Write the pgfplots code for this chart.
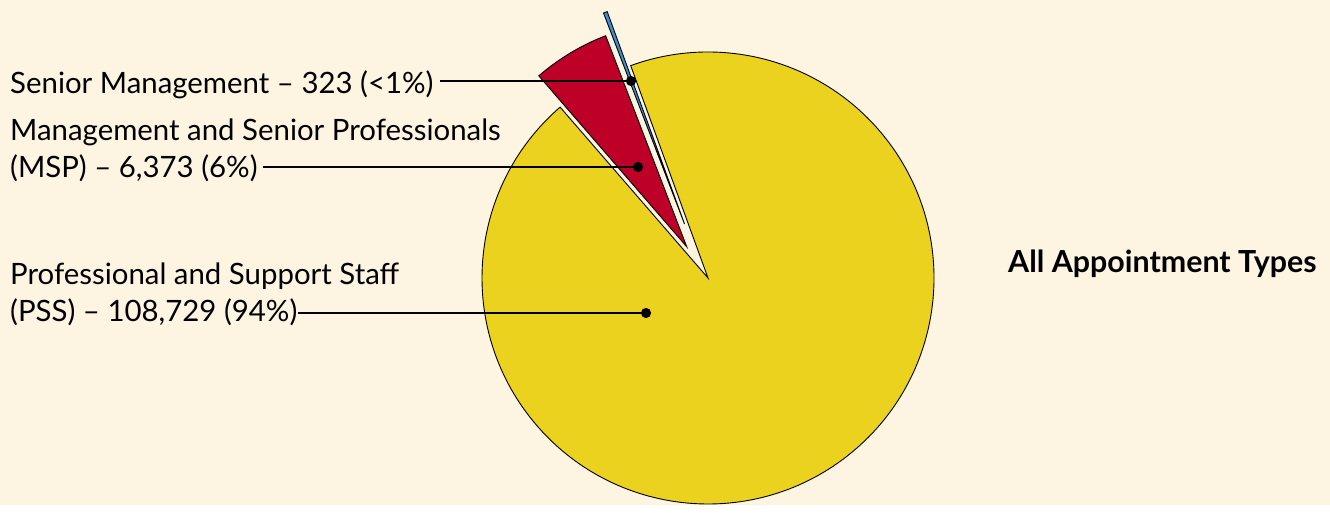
\documentclass[border=0pt]{standalone}
\usepackage{fontspec}
\setmainfont{Lato}
\usepackage{pgfplots}
\usepackage{pgfplotstable}
\pgfplotsset{compat=1.18}

\definecolor{cream}{HTML}{FDF5E1}
\definecolor{pssyellow}{HTML}{EBD21E}
\definecolor{mspred}{HTML}{BE0029}
\definecolor{smblue}{HTML}{3A8FD0}

% headcount by appointment type
\pgfplotstableread{
group count
SM    323
MSP   6373
PSS   108729
}\staff

\pgfplotstablegetelem{0}{count}\of\staff \edef\nSM{\pgfplotsretval}
\pgfplotstablegetelem{1}{count}\of\staff \edef\nMSP{\pgfplotsretval}
\pgfplotstablegetelem{2}{count}\of\staff \edef\nPSS{\pgfplotsretval}
\edef\ntot{\fpeval{\nSM+\nMSP+\nPSS}}
% slice angles, counter-clockwise from 110 degrees
\edef\aA{110}
\edef\aB{\fpeval{\aA+360*\nSM/\ntot}}
\edef\aC{\fpeval{\aB+360*\nMSP/\ntot}}
\edef\aD{\fpeval{\aC+360*\nPSS/\ntot}}
\def\R{226bp}

\begin{document}
\begin{tikzpicture}
  \begin{axis}[
    width=1330bp, height=505bp,
    scale only axis,
    xmin=0, xmax=1330,
    ymin=0, ymax=505,
    hide axis,
    clip=false,
  ]
    \fill[cream] (axis cs:0,0) rectangle (axis cs:1330,505);

    % PSS
    \filldraw[fill=pssyellow, draw=black, line width=0.9bp, line join=miter]
      (axis cs:708,227) -- ++(\aC:\R) arc[start angle=\aC, end angle=\aD, radius=\R] -- cycle;
    % MSP (pulled out)
    \filldraw[fill=mspred, draw=black, line width=0.9bp, line join=miter]
      (axis cs:686.7,258.3) -- ++(\aB:\R) arc[start angle=\aB, end angle=\aC, radius=\R] -- cycle;
    % Senior Management (pulled out further)
    \filldraw[fill=smblue, draw=black, line width=0.9bp, line join=miter]
      (axis cs:684.5,281) -- ++(\aA:\R) arc[start angle=\aA, end angle=\aB, radius=\R] -- cycle;

    % leader lines
    \addplot[black, line width=1.1bp, mark=*, mark indices={2}, mark size=4.5bp]
      coordinates {(440,424) (631,424)};
    \addplot[black, line width=1.1bp, mark=*, mark indices={2}, mark size=4.5bp]
      coordinates {(263,338) (638,338)};
    \addplot[black, line width=1.1bp, mark=*, mark indices={2}, mark size=4.5bp]
      coordinates {(298,192) (646,192)};

    \begin{scope}[every node/.style={anchor=base west, inner sep=0pt, font=\fontsize{29.5}{34}\selectfont}]
      \node at (axis cs:10,411.7) {Senior Management – 323 (<1\%)};
      \node at (axis cs:10,364.3) {Management and Senior Professionals};
      \node at (axis cs:10,327) {(MSP) – 6,373 (6\%)};
      \node at (axis cs:10,220.7) {Professional and Support Staff};
      \node at (axis cs:10,183.3) {(PSS) – 108,729 (94\%)};
      \node[font=\fontsize{30.5}{34}\selectfont\bfseries] at (axis cs:1008,232.3) {All Appointment Types};
    \end{scope}
  \end{axis}
\end{tikzpicture}
\end{document}
